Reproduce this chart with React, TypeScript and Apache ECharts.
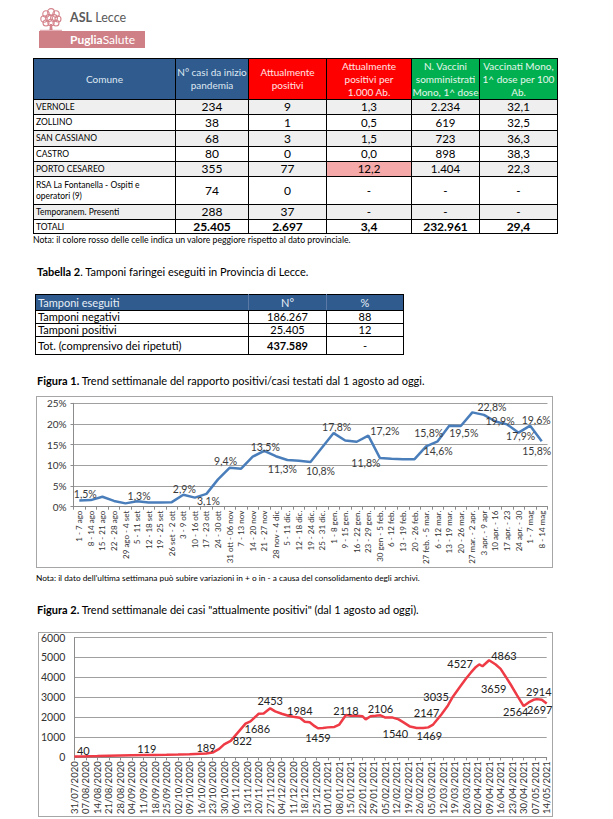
import React, { useEffect, useRef } from "react";
import * as echarts from "echarts";

// ---------- Tabella 1 ----------
const comuni = ["VERNOLE", "ZOLLINO", "SAN CASSIANO", "CASTRO", "PORTO CESAREO", "RSA La Fontanella - Ospiti e operatori (9)", "Temporanem. Presenti"];
const casiInizio = ["234", "38", "68", "80", "355", "74", "288"];
const attPositivi = ["9", "1", "3", "0", "77", "0", "37"];
const positiviPer1000 = ["1,3", "0,5", "1,5", "0,0", "12,2", "-", "-"];
const vacciniSomm = ["2.234", "619", "723", "898", "1.404", "-", "-"];
const vaccinatiPer100 = ["32,1", "32,5", "36,3", "38,3", "22,3", "-", "-"];
const totali = ["TOTALI", "25.405", "2.697", "3,4", "232.961", "29,4"];

// ---------- Tabella 2 ----------
const tamponiVoci = ["Tamponi negativi", "Tamponi positivi", "Tot. (comprensivo dei ripetuti)"];
const tamponiN = ["186.267", "25.405", "437.589"];
const tamponiPct = ["88", "12", "-"];

// ---------- Figura 1 ----------
const weeks1 = ["1 - 7 ago", "8 - 14 ago", "15 - 21 ago", "22 - 28 ago", "29 ago - 4 set", "5 - 11 set", "12 - 18 set", "19 - 25 set", "26 set - 2 ott", "3 - 9 ott", "10 - 16 ott", "17 - 23 ott", "24 - 30 ott", "31 ott - 06 nov", "7 - 13 nov", "14 - 20 nov", "21 - 27 nov", "28 nov - 4 dic", "5 - 11 dic.", "12 - 18 dic.", "19 - 24 dic.", "25 - 31 dic.", "1 - 8 gen.", "9 - 15 gen.", "16 - 22 gen.", "23 - 29 gen.", "30 gen - 5 feb.", "6 - 12 feb.", "13 - 19 feb.", "20 - 26 feb.", "27 feb. - 5 mar.", "6 - 12 mar.", "13 - 19 mar.", "20 - 26 mar.", "27 mar. - 2 apr.", "3 apr. - 9 apr", "10 apr. - 16", "17 apr. - 23", "24 apr. - 30", "1 - 7 mag", "8 - 14 mag"];
const positivity1 = [1.5, 1.6, 2.4, 1.4, 0.8, 1.3, 1.0, 1.0, 1.1, 2.9, 2.2, 3.1, 6.6, 9.4, 9.2, 12.1, 13.5, 12.2, 11.3, 11.1, 10.8, 14.3, 17.8, 16.0, 15.7, 17.2, 11.8, 11.6, 11.5, 11.5, 14.6, 15.8, 19.6, 19.5, 22.8, 22.2, 20.6, 19.9, 17.9, 19.6, 15.8];
const yTicks1 = [0, 5, 10, 15, 20, 25];

// label placement for labelled points (index -> [position, dx, dy])
const fig1Labels: Record<number, [string, number, number]> = {
  0: ["top", 6, 1], 5: ["top", 2, 2], 9: ["top", 1, 2], 11: ["bottom", 2, 0], 13: ["top", -4, 1],
  16: ["top", 1, 4], 18: ["bottom", -5, 1], 20: ["bottom", 10, 1], 22: ["top", 3, 1], 25: ["right", 0, -5],
  26: ["bottom", -14, -2], 30: ["bottom", 12, -3], 31: ["top", -9, -1], 33: ["bottom", 3, -1], 34: ["right", 3, -5],
  37: ["inside", -7, -3], 38: ["bottom", 2, -4], 39: ["top", 6, 2], 40: ["bottom", -5, 2],
};

// ---------- Figura 2 ----------
const dates2 = ["31/07/2020", "07/08/2020", "14/08/2020", "21/08/2020", "28/08/2020", "04/09/2020", "11/09/2020", "18/09/2020", "25/09/2020", "02/10/2020", "09/10/2020", "16/10/2020", "23/10/2020", "30/10/2020", "06/11/2020", "13/11/2020", "20/11/2020", "27/11/2020", "04/12/2020", "11/12/2020", "18/12/2020", "25/12/2020", "01/01/2021", "08/01/2021", "15/01/2021", "22/01/2021", "29/01/2021", "05/02/2021", "12/02/2021", "19/02/2021", "26/02/2021", "05/03/2021", "12/03/2021", "19/03/2021", "26/03/2021", "02/04/2021", "09/04/2021", "16/04/2021", "23/04/2021", "30/04/2021", "07/05/2021", "14/05/2021"];
// day offset from 31/07/2020 and number of currently positive cases
const days2 = [0, 7, 14, 21, 28, 35, 44, 49, 56, 63, 70, 80, 84, 88, 91, 95, 98, 104, 107, 112, 115, 119, 122, 126, 130, 133, 137, 140, 143, 146, 148, 151, 154, 158, 161, 165, 168, 172, 175, 177, 180, 183, 186, 189, 193, 197, 200, 204, 208, 212, 215, 218, 223, 227, 230, 234, 238, 241, 244, 246, 248, 252, 256, 259, 262, 265, 269, 273, 276, 279, 281, 284, 287];
const cases2 = [40, 50, 65, 85, 95, 105, 119, 122, 128, 138, 150, 189, 240, 420, 650, 822, 1110, 1686, 1800, 2180, 2200, 2453, 2300, 2180, 2080, 2030, 1984, 1780, 1760, 1560, 1459, 1470, 1500, 1520, 1640, 2118, 2080, 2080, 2060, 1900, 2060, 2080, 2106, 1990, 2000, 1900, 1750, 1540, 1470, 1469, 1500, 1640, 2147, 2600, 3035, 3500, 3950, 4250, 4527, 4650, 4560, 4863, 4650, 4430, 4050, 3659, 3100, 2564, 2750, 2880, 2914, 2880, 2697];
const yTicks2 = [0, 1000, 2000, 3000, 4000, 5000, 6000];

const fig2Labels: Record<number, [string, number, number]> = {
  0: ["top", 9, 2], 6: ["top", 0, 1], 11: ["top", 0, 1], 15: ["right", 0, 0], 17: ["right", -3, 5],
  21: ["top", 0, 0], 26: ["top", 0, 0], 30: ["bottom", 0, 2], 35: ["top", 0, 3], 42: ["top", 0, 1],
  47: ["left", 0, 7], 49: ["bottom", 6, 0], 52: ["left", 0, -2], 54: ["left", -2, 0], 58: ["left", -1, -3],
  61: ["right", 0, -5], 65: ["left", -2, 4], 67: ["bottom", -8, -2], 70: ["top", 2, 0], 72: ["bottom", -7, -2],
};

const FONT = "Lato, 'Noto Sans', 'DejaVu Sans', sans-serif";

function Chart({ option, style }: { option: any; style: React.CSSProperties }) {
  const ref = useRef<HTMLDivElement>(null);
  useEffect(() => {
    if (!ref.current) return;
    const c = echarts.init(ref.current, undefined, { renderer: "svg" });
    c.setOption(option);
    return () => c.dispose();
  }, []);
  return <div ref={ref} style={style} />;
}

const fig1Option = {
  animation: false,
  textStyle: { fontFamily: FONT },
  grid: { left: 37.5, right: 5.5, top: 7.3, bottom: 61.3 },
  xAxis: {
    type: "category",
    data: weeks1,
    boundaryGap: true,
    axisLine: { lineStyle: { color: "#8c8c8c", width: 1 } },
    axisTick: { show: true, length: 3, interval: 0, lineStyle: { color: "#8c8c8c" } },
    axisLabel: { rotate: 90, interval: 0, fontSize: 8, color: "#333", margin: 4, fontFamily: FONT },
  },
  yAxis: {
    type: "value",
    min: yTicks1[0],
    max: yTicks1[yTicks1.length - 1],
    interval: 5,
    axisLine: { show: true, lineStyle: { color: "#8c8c8c" } },
    axisTick: { show: true, length: 3, lineStyle: { color: "#8c8c8c" } },
    splitLine: { lineStyle: { color: "#a0a0a0", width: 1 } },
    axisLabel: { formatter: "{value}%", fontSize: 10, color: "#333", margin: 7, fontFamily: FONT },
  },
  series: [
    {
      type: "line",
      data: positivity1.map((v, i) => {
        const l = fig1Labels[i];
        return l
          ? { value: v, label: { show: true, position: l[0], offset: [l[1], l[2]] } }
          : { value: v };
      }),
      symbol: "circle",
      symbolSize: 0.1,
      showAllSymbol: true,
      lineStyle: { color: "#4a7ebb", width: 2.5 },
      itemStyle: { color: "#4a7ebb" },
      emphasis: { disabled: true },
      label: {
        show: false,
        distance: 2,
        fontSize: 10.5,
        color: "#3a3a3a",
        fontFamily: FONT,
        formatter: (p: any) => p.value.toFixed(1).replace(".", ",") + "%",
      },
    },
  ],
};

const fig2Option = {
  animation: false,
  textStyle: { fontFamily: FONT },
  grid: { left: 36.3, right: 6.3, top: 5.3, bottom: 57.7 },
  xAxis: {
    type: "value",
    min: 0,
    max: 287,
    interval: 7,
    splitLine: { show: false },
    axisLine: { lineStyle: { color: "#8c8c8c" } },
    axisTick: { show: true, length: 3, lineStyle: { color: "#8c8c8c" } },
    axisLabel: {
      rotate: 90,
      fontSize: 9.5,
      color: "#333",
      margin: 4,
      fontFamily: FONT,
      showMinLabel: true,
      showMaxLabel: true,
      formatter: (v: number) => dates2[Math.round(v / 7)] || "",
    },
  },
  yAxis: {
    type: "value",
    min: yTicks2[0],
    max: yTicks2[yTicks2.length - 1],
    interval: 1000,
    axisLine: { show: true, lineStyle: { color: "#8c8c8c" } },
    axisTick: { show: false },
    splitLine: { lineStyle: { color: "#a0a0a0", width: 1 } },
    axisLabel: { fontSize: 10.5, color: "#333", margin: 9, fontFamily: FONT, formatter: (v: number) => String(v) },
  },
  series: [
    {
      type: "line",
      data: days2.map((d, i) => {
        const l = fig2Labels[i];
        return l
          ? { value: [d, cases2[i]], label: { show: true, position: l[0], offset: [l[1], l[2]] } }
          : { value: [d, cases2[i]] };
      }),
      symbol: "circle",
      symbolSize: 0.1,
      lineStyle: { color: "#ee3b45", width: 2.5 },
      itemStyle: { color: "#ee3b45" },
      emphasis: { disabled: true },
      label: {
        show: false,
        distance: 2,
        fontSize: 11,
        color: "#222",
        fontFamily: FONT,
        formatter: (p: any) => String(p.value[1]),
      },
    },
  ],
};

const BLUE = "#2f5b8e";
const RED = "#ff0000";
const GREEN = "#00b050";

const cellBase: React.CSSProperties = {
  border: "1px solid #000",
  padding: 0,
  textAlign: "center",
  verticalAlign: "middle",
  overflow: "hidden",
  lineHeight: "12px",
};

function Tree() {
  const c = "#d4838b";
  const circles = [
    [8, 7, 3.2], [13, 5, 3.4], [18, 7, 3.2], [6, 12, 3.2], [11, 11, 3.4], [16, 11, 3.4], [20, 12, 3],
    [8, 16, 3], [13, 15.5, 3.2], [18, 16, 3],
  ];
  return (
    <svg width={26} height={24} viewBox="0 0 26 24" style={{ position: "absolute", left: 38, top: 7 }}>
      {circles.map((p, i) => (
        <circle key={i} cx={p[0]} cy={p[1]} r={p[2]} fill="none" stroke={c} strokeWidth={1.1} />
      ))}
      <polygon points="12,17 14,17 14.6,23 11.4,23" fill={c} />
      <line x1="2" y1="23.3" x2="24" y2="23.3" stroke={c} strokeWidth={0.8} />
    </svg>
  );
}

export default function App() {
  const header1: [string[], string, string][] = [
    [["Comune"], BLUE, "#dfe8f2"],
    [["N° casi da inizio", "pandemia"], BLUE, "#dfe8f2"],
    [["Attualmente", "positivi"], RED, "#ffe4e4"],
    [["Attualmente", "positivi per", "1.000 Ab."], RED, "#ffe4e4"],
    [["N. Vaccini", "somministrati", "Mono, 1^ dose"], GREEN, "#e6f6ec"],
    [["Vaccinati Mono,", "1^ dose per 100", "Ab."], GREEN, "#e6f6ec"],
  ];
  const colW1 = [142, 73, 78, 85, 68, 78];
  const rowH = [15, 16, 16, 15, 15, 28, 15];

  return (
    <div
      style={{
        position: "absolute",
        left: 0,
        top: 0,
        width: 613,
        height: 819,
        background: "#fff",
        overflow: "hidden",
        fontFamily: FONT,
        color: "#000",
      }}
    >
      {/* Logo */}
      <Tree />
      <div style={{ position: "absolute", left: 70, top: 10, fontSize: 12.5, lineHeight: "16px", color: "#5a5a5a", whiteSpace: "nowrap" }}>
        <span style={{ fontWeight: 700 }}>ASL</span> Lecce
      </div>
      <div
        style={{
          position: "absolute",
          left: 39,
          top: 31,
          width: 106,
          height: 17,
          background: "#cf7f86",
          color: "#fff",
          fontSize: 12,
          lineHeight: "17px",
          paddingLeft: 31,
          boxSizing: "border-box",
          whiteSpace: "nowrap",
        }}
      >
        <span style={{ fontWeight: 700 }}>Puglia</span>Salute
      </div>

      {/* Tabella 1 */}
      <table
        style={{
          position: "absolute",
          left: 33,
          top: 58,
          borderCollapse: "collapse",
          tableLayout: "fixed",
          width: colW1.reduce((a, b) => a + b, 0),
        }}
      >
        <colgroup>
          {colW1.map((w, i) => (
            <col key={i} style={{ width: w }} />
          ))}
        </colgroup>
        <tbody>
          <tr style={{ height: 41 }}>
            {header1.map(([lines, bg, fg], i) => (
              <td key={i} style={{ ...cellBase, background: bg, color: fg, fontSize: 10, lineHeight: "13px" }}>
                {lines.map((t, k) => (
                  <div key={k}>{t}</div>
                ))}
              </td>
            ))}
          </tr>
          {comuni.map((name, r) => {
            const bg = r % 2 === 0 ? "#efefef" : "#fff";
            return (
              <tr key={r} style={{ height: rowH[r], background: bg }}>
                <td style={{ ...cellBase, textAlign: "left", paddingLeft: 2, fontSize: 8.5, lineHeight: "11px" }}>{name}</td>
                <td style={{ ...cellBase, fontSize: 12 }}>{casiInizio[r]}</td>
                <td style={{ ...cellBase, fontSize: 12 }}>{attPositivi[r]}</td>
                <td style={{ ...cellBase, fontSize: 11.5, background: name === "PORTO CESAREO" ? "#f5a9a9" : undefined }}>{positiviPer1000[r]}</td>
                <td style={{ ...cellBase, fontSize: 11.5 }}>{vacciniSomm[r]}</td>
                <td style={{ ...cellBase, fontSize: 11.5 }}>{vaccinatiPer100[r]}</td>
              </tr>
            );
          })}
          <tr style={{ height: 14 }}>
            {totali.map((t, i) => (
              <td
                key={i}
                style={{
                  ...cellBase,
                  textAlign: i === 0 ? "left" : "center",
                  paddingLeft: i === 0 ? 2 : 0,
                  fontSize: i === 0 ? 8.5 : 12,
                  fontWeight: i === 0 ? 400 : 700,
                }}
              >
                {t}
              </td>
            ))}
          </tr>
        </tbody>
      </table>

      <div style={{ position: "absolute", left: 33, top: 234, fontSize: 8.7, lineHeight: "12px", whiteSpace: "nowrap" }}>
        Nota: il colore rosso delle celle indica un valore peggiore rispetto al dato provinciale.
      </div>

      <div style={{ position: "absolute", left: 37, top: 265, fontSize: 11, lineHeight: "14px", whiteSpace: "nowrap" }}>
        <b>Tabella 2</b>. Tamponi faringei eseguiti in Provincia di Lecce.
      </div>

      {/* Tabella 2 */}
      <table
        style={{
          position: "absolute",
          left: 35,
          top: 294,
          borderCollapse: "collapse",
          tableLayout: "fixed",
          width: 368,
          fontSize: 11,
        }}
      >
        <colgroup>
          <col style={{ width: 213 }} />
          <col style={{ width: 78 }} />
          <col style={{ width: 77 }} />
        </colgroup>
        <tbody>
          <tr style={{ height: 16, background: BLUE, color: "#e8eef6" }}>
            <td style={{ ...cellBase, textAlign: "left", paddingLeft: 2, borderRight: "1px solid #5a7aa5" }}>Tamponi eseguiti</td>
            <td style={{ ...cellBase, borderLeft: "1px solid #5a7aa5", borderRight: "1px solid #5a7aa5" }}>N°</td>
            <td style={{ ...cellBase, borderLeft: "1px solid #5a7aa5" }}>%</td>
          </tr>
          {tamponiVoci.map((v, r) => (
            <tr key={r} style={{ height: r === 2 ? 18 : 13 }}>
              <td style={{ ...cellBase, textAlign: "left", paddingLeft: 2 }}>{v}</td>
              <td style={{ ...cellBase, fontWeight: r === 2 ? 700 : 400 }}>{tamponiN[r]}</td>
              <td style={{ ...cellBase }}>{tamponiPct[r]}</td>
            </tr>
          ))}
        </tbody>
      </table>

      <div style={{ position: "absolute", left: 37, top: 374, fontSize: 11, lineHeight: "14px", whiteSpace: "nowrap" }}>
        <b>Figura 1.</b> Trend settimanale del rapporto positivi/casi testati dal 1 agosto ad oggi.
      </div>

      {/* Figura 1 */}
      <div style={{ position: "absolute", left: 36, top: 396, width: 517, height: 172, border: "1px solid #a6a6a6", boxSizing: "border-box" }} />
      <Chart option={fig1Option} style={{ position: "absolute", left: 36, top: 396, width: 517, height: 172 }} />

      <div style={{ position: "absolute", left: 36, top: 572, fontSize: 8.3, lineHeight: "12px", whiteSpace: "nowrap" }}>
        Nota: il dato dell'ultima settimana può subire variazioni in + o in - a causa del consolidamento degli archivi.
      </div>

      <div style={{ position: "absolute", left: 37, top: 603, fontSize: 11, lineHeight: "14px", whiteSpace: "nowrap" }}>
        <b>Figura 2.</b> Trend settimanale dei casi "attualmente positivi" (dal 1 agosto ad oggi).
      </div>

      {/* Figura 2 */}
      <div style={{ position: "absolute", left: 38, top: 632, width: 515, height: 185, border: "1px solid #a6a6a6", boxSizing: "border-box" }} />
      <Chart option={fig2Option} style={{ position: "absolute", left: 38, top: 632, width: 515, height: 185 }} />
    </div>
  );
}
